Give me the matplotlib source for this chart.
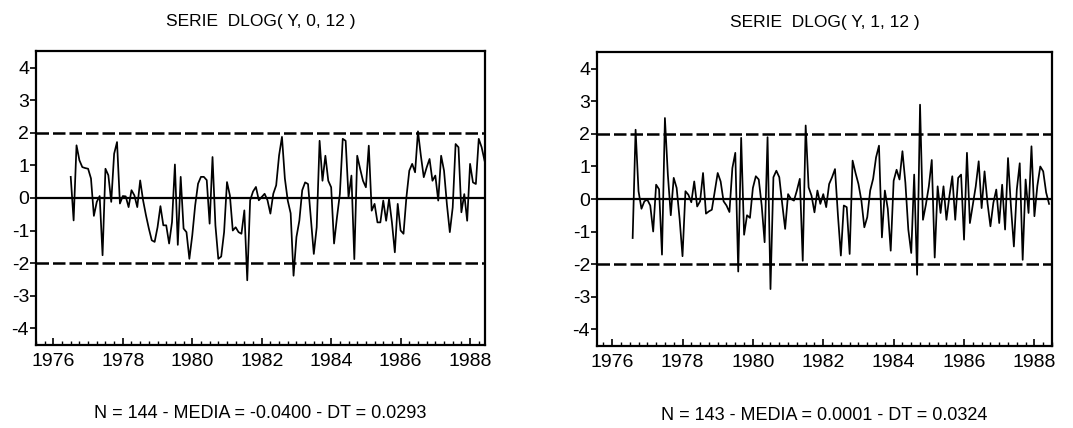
import numpy as np
import matplotlib.pyplot as plt
from matplotlib.ticker import MultipleLocator

plt.rcParams['font.family'] = ['Liberation Sans', 'DejaVu Sans']
plt.rcParams['axes.unicode_minus'] = False

# standardised series, monthly
serie_0_12 = [
    0.65, -0.69, 1.62, 1.16, 0.95, 0.92, 0.90, 0.60, -0.55, -0.12,
    0.06, -1.76, 0.90, 0.70, -0.12, 1.36, 1.72, -0.17, 0.06, 0.05,
    -0.28, 0.24, 0.08, -0.28, 0.54, -0.07, -0.53, -0.94, -1.30, -1.35,
    -0.90, -0.25, -0.84, -0.84, -1.40, -0.74, 1.03, -1.44, 0.65, -0.94,
    -1.05, -1.87, -1.15, -0.23, 0.44, 0.65, 0.65, 0.55, -0.79, 1.26,
    -0.84, -1.87, -1.80, -1.05, 0.49, 0.08, -1.00, -0.90, -1.05, -1.10,
    -0.38, -2.53, -0.07, 0.20, 0.34, -0.07, 0.03, 0.13, -0.07, -0.48,
    0.13, 0.39, 1.31, 1.88, 0.60, -0.08, -0.47, -2.39, -1.20, -0.70,
    0.24, 0.48, 0.43, -0.64, -1.72, -0.90, 1.76, 0.53, 1.30, 0.53,
    0.33, -1.40, -0.60, 0.12, 1.82, 1.76, 0.02, 0.69, -1.88, 1.30,
    0.90, 0.53, 0.33, 1.61, -0.39, -0.18, -0.75, -0.75, -0.08, -0.70,
    -0.03, -0.75, -1.67, -0.18, -1.00, -1.10, 0.02, 0.84, 1.05, 0.79,
    2.05, 1.30, 0.64, 0.94, 1.20, 0.53, 0.69, -0.08, 1.30, 0.84,
    -0.20, -1.05, -0.29, 1.66, 1.56, -0.44, 0.12, -0.70, 1.05, 0.48,
    0.43, 1.82, 1.56, 1.15,
]
serie_1_12 = [
    -1.20, 2.13, 0.24, -0.30, -0.07, -0.02, -0.20, -1.00, 0.44, 0.30,
    -1.71, 2.49, 0.75, -0.50, 0.65, 0.34, -0.60, -1.76, 0.24, 0.13,
    -0.10, 0.54, -0.23, -0.07, 0.80, -0.45, -0.38, -0.33, 0.24, 0.80,
    0.54, -0.07, -0.20, -0.40, 0.95, 1.42, -2.23, 1.88, -1.10, -0.50,
    -0.58, 0.34, 0.70, 0.60, -0.20, -1.33, 1.90, -2.77, 0.67, 0.87,
    0.67, -0.15, -0.92, 0.15, 0.00, -0.05, 0.26, 0.62, -1.90, 2.26,
    0.36, 0.10, -0.41, 0.26, -0.15, 0.15, -0.25, 0.46, 0.67, 0.92,
    -0.50, -1.74, -0.20, -0.25, -1.69, 1.18, 0.80, 0.46, -0.05, -0.87,
    -0.56, 0.26, 0.62, 1.28, 1.64, -1.18, 0.26, -0.30, -1.59, 0.56,
    0.90, 0.60, 1.47, 0.50, -0.94, -1.66, 0.75, -2.33, 2.90, -0.64,
    -0.17, 0.39, 1.20, -1.80, 0.39, -0.43, 0.39, -0.64, 0.08, 0.70,
    -0.64, 0.65, 0.75, -1.25, 1.42, -0.74, -0.17, 0.39, 1.16, -0.28,
    0.85, -0.12, -0.84, -0.12, 0.29, -0.74, 0.44, -0.94, 1.26, -0.23,
    -1.46, 0.29, 1.10, -1.87, 0.60, -0.43, 1.62, -0.53, 0.40, 1.00,
    0.85, 0.20, -0.15,
]
start_0_12 = 1976 + 6 / 12   # 1976M7
start_1_12 = 1976 + 7 / 12   # 1976M8

titles = ["SERIE  DLOG( Y, 0, 12 )", "SERIE  DLOG( Y, 1, 12 )"]
notes = ["N = 144 - MEDIA = -0.0400 - DT = 0.0293",
         "N = 143 - MEDIA = 0.0001 - DT = 0.0324"]
year_ticks = [1976, 1978, 1980, 1982, 1984, 1986, 1988]
y_ticks = [-4, -3, -2, -1, 0, 1, 2, 3, 4]
bands = [-2, 2]

fig = plt.figure(figsize=(10.73, 4.28), dpi=100)
ax1 = fig.add_axes([36 / 1073, 1 - 345 / 428, 449 / 1073, 294 / 428])
ax2 = fig.add_axes([597 / 1073, 1 - 346 / 428, 455 / 1073, 294 / 428])

panels = [
    (ax1, serie_0_12, start_0_12, (1975.5, 1988.43)),
    (ax2, serie_1_12, start_1_12, (1975.57, 1988.5)),
]

for k, (ax, serie, start, xlim) in enumerate(panels):
    t = start + np.arange(len(serie)) / 12
    ax.plot(t, serie, color='black', lw=1.25)
    ax.axhline(0, color='black', lw=1.6)
    for b in bands:
        ax.axhline(b, color='black', lw=1.8, ls=(0, (5, 1.6)))
    ax.set_xlim(*xlim)
    ax.set_ylim(-4.52, 4.52)
    ax.set_yticks(y_ticks)
    ax.set_xticks(year_ticks)
    ax.xaxis.set_minor_locator(MultipleLocator(0.25))
    ax.tick_params(axis='y', direction='out', length=4, width=1.2, labelsize=14, pad=1)
    ax.tick_params(axis='x', which='major', direction='in', length=5, width=1.2,
                   labelsize=14, pad=6)
    ax.tick_params(axis='x', which='minor', direction='in', length=3, width=1.0)
    for s in ax.spines.values():
        s.set_linewidth(1.6)
    ax.text(0.5, 1 + 30 / 294, titles[k], transform=ax.transAxes, ha='center',
            va='center', fontsize=12.5)
    ax.text(0.5, -69 / 294, notes[k], transform=ax.transAxes, ha='center',
            va='center', fontsize=13)

fig.savefig('out.png', dpi=100, facecolor='white')
